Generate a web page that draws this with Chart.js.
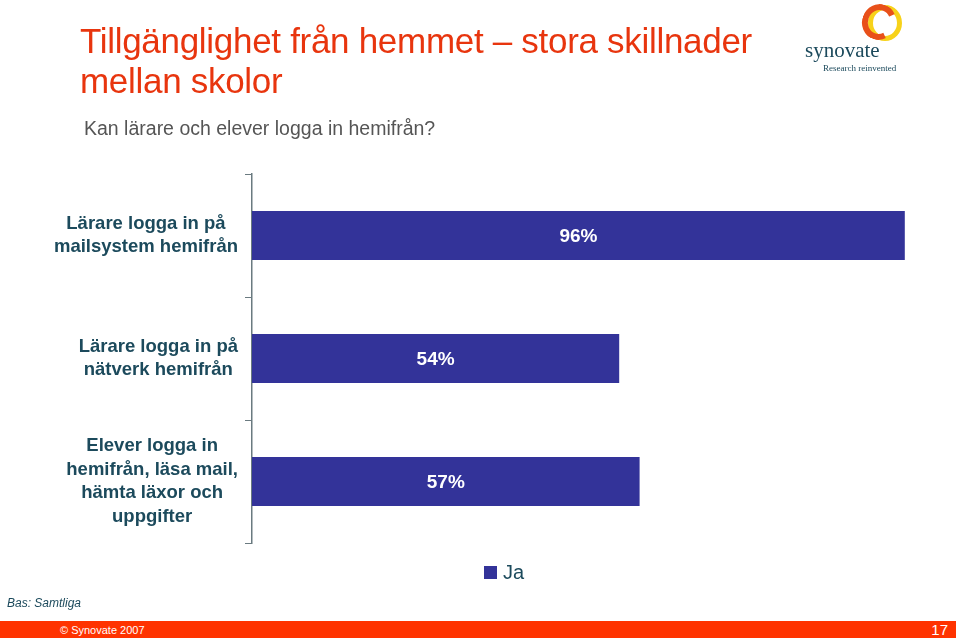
<!DOCTYPE html>
<html>
<head>
<meta charset="utf-8">
<script src="https://cdn.jsdelivr.net/npm/chart.js@4"></script>
<style>
  html, body { margin: 0; padding: 0; background: #fff; }
  #page { position: relative; width: 960px; height: 640px; overflow: hidden; font-family: Arial, "Liberation Sans", sans-serif; }
  #chart { position: absolute; left: 0; top: 0; }
  .title { position: absolute; left: 80px; top: 21px; color: #e8350e; font-size: 35px; line-height: 40px; letter-spacing: -0.3px; }
  .subtitle { position: absolute; left: 84px; top: 117px; color: #555; font-size: 19.5px; }
  .legend { position: absolute; left: 484px; top: 561px; color: #1c4a5c; font-size: 20px; }
  .legend span.box { display: inline-block; width: 13px; height: 13px; background: #333399; margin-right: 6px; vertical-align: 0px; }
  .bas { position: absolute; left: 7px; top: 596px; color: #1c4a5c; font-size: 12px; font-style: italic; }
  .footer { position: absolute; left: 0; top: 621px; width: 956px; height: 17px; background: #ff3300; color: #fff; }
  .footer .copy { position: absolute; left: 60px; top: 3px; font-size: 11px; }
  .footer .num { position: absolute; right: 8px; top: 0px; font-size: 15px; }
  .logo { position: absolute; left: 800px; top: 0; width: 160px; height: 80px; }
  .ring1 { position: absolute; left: 68px; top: 5px; width: 34px; height: 36px; border: 5px solid #f7d21a; border-radius: 50%; box-sizing: border-box; }
  .ring2 { position: absolute; left: 62px; top: 4px; width: 34px; height: 36px; border: 6px solid #e8501a; border-radius: 50%; box-sizing: border-box; border-right-color: transparent; transform: rotate(20deg); }
  .logo .name { position: absolute; left: 5px; top: 38px; font-family: "Liberation Serif", serif; font-size: 21px; color: #1c4a5c; }
  .logo .tag { position: absolute; left: 23px; top: 63px; font-family: "Liberation Serif", serif; font-size: 9px; color: #1c4a5c; }
</style>
</head>
<body>
<div id="page">
  <canvas id="chart" width="960" height="640"></canvas>
  <div class="title">Tillgänglighet från hemmet – stora skillnader<br>mellan skolor</div>
  <div class="subtitle">Kan lärare och elever logga in hemifrån?</div>
  <div class="logo">
    <div class="ring1"></div><div class="ring2"></div>
    <div class="name">synovate</div>
    <div class="tag">Research reinvented</div>
  </div>
  <div class="legend"><span class="box"></span>Ja</div>
  <div class="bas">Bas: Samtliga</div>
  <div class="footer"><span class="copy">© Synovate 2007</span><span class="num">17</span></div>
</div>
<script>
const categories = [
  ['Lärare logga in på', 'mailsystem hemifrån'],
  ['Lärare logga in på', 'nätverk hemifrån'],
  ['Elever logga in', 'hemifrån, läsa mail,', 'hämta läxor och', 'uppgifter']
];
const jaValues = [96, 54, 57];
const seriesName = 'Ja';

const labelColor = '#1c4a5c';
const barColor = '#333399';

// draws the multi-line category labels (lines centred, block right-aligned) and the bar values
const labelsPlugin = {
  id: 'labels',
  afterDatasetsDraw(chart) {
    const ctx = chart.ctx;
    const yScale = chart.scales.y;
    ctx.save();
    ctx.font = 'bold 18.5px Arial, "Liberation Sans", sans-serif';
    ctx.fillStyle = labelColor;
    ctx.textAlign = 'center';
    ctx.textBaseline = 'middle';
    const right = 238;
    const lh = 23.7;
    categories.forEach((lines, i) => {
      const cy = yScale.getPixelForTick(i);
      const w = Math.max(...lines.map(l => ctx.measureText(l).width));
      const cx = right - w / 2;
      lines.forEach((l, j) => {
        ctx.fillText(l, cx, cy + (j - (lines.length - 1) / 2) * lh);
      });
    });
    ctx.font = 'bold 19px Arial, "Liberation Sans", sans-serif';
    ctx.fillStyle = '#fff';
    chart.getDatasetMeta(0).data.forEach((bar, i) => {
      const cx = (bar.x + bar.base) / 2;
      ctx.fillText(jaValues[i] + '%', cx, bar.y + 1);
    });
    ctx.restore();
  }
};

new Chart(document.getElementById('chart'), {
  type: 'bar',
  data: {
    labels: categories,
    datasets: [{
      label: seriesName,
      data: jaValues,
      backgroundColor: barColor,
      borderWidth: 0,
      barPercentage: 0.8,
      categoryPercentage: 0.5
    }]
  },
  options: {
    indexAxis: 'y',
    responsive: false,
    animation: false,
    layout: { padding: { left: 0, right: 28, top: 174, bottom: 97 } },
    plugins: { legend: { display: false }, tooltip: { enabled: false } },
    scales: {
      x: { display: false, min: 0, max: 100 },
      y: {
        afterFit(scale) { scale.width = 252; },
        ticks: { display: false },
        grid: { display: true, drawOnChartArea: false, drawTicks: true, tickLength: 7, color: '#6a7a80', offset: true },
        border: { display: true, color: '#6a7a80', width: 1.5 }
      }
    }
  },
  plugins: [labelsPlugin]
});
</script>
</body>
</html>
